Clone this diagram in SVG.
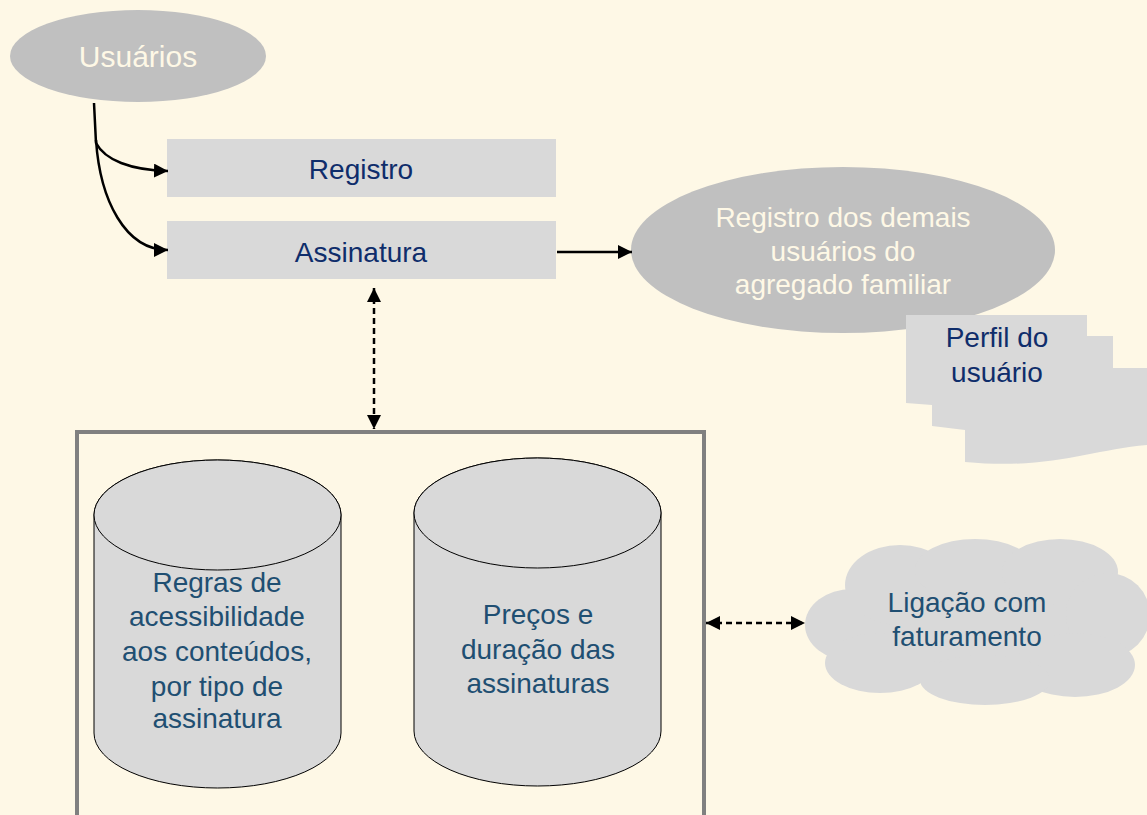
<svg xmlns="http://www.w3.org/2000/svg" width="1147" height="815" viewBox="0 0 1147 815">
<style>
text{font-family:"Liberation Sans",Arial,sans-serif;text-anchor:middle}
.light{fill:#FEF8E6;font-size:28px}
.navy{fill:#0F2D6B;font-size:28px}
.teal{fill:#1F4F72;font-size:28px}
.box{fill:#D9D9D9}
.cyl{fill:#D9D9D9;stroke:#000;stroke-width:1}
.solid{fill:none;stroke:#000;stroke-width:2.5}
.dash{fill:none;stroke:#000;stroke-width:2.5;stroke-dasharray:6,4}
</style>
<defs>
<marker id="ah" viewBox="0 0 10 10" refX="10" refY="5" markerWidth="14" markerHeight="14" markerUnits="userSpaceOnUse" orient="auto-start-reverse">
<path d="M0,0 L10,5 L0,10 Z" fill="#000"/>
</marker>
</defs>
<rect width="1147" height="815" fill="#FEF8E6"/>

<g id="usuarios">
<ellipse cx="138" cy="56" rx="128" ry="46" fill="#C0C0C0"/>
<text class="light" x="138" y="67" style="font-size:30px">Usuários</text>
</g>

<g id="registro">
<rect class="box" x="167" y="139" width="389" height="58"/>
<text class="navy" x="361" y="179">Registro</text>
</g>

<g id="assinatura">
<rect class="box" x="167" y="221" width="389" height="58"/>
<text class="navy" x="361" y="262">Assinatura</text>
</g>

<g id="registro-demais">
<ellipse cx="843" cy="250" rx="212" ry="83" fill="#C0C0C0"/>
<text class="light" x="843" y="227">Registro dos demais</text>
<text class="light" x="843" y="261">usuários do</text>
<text class="light" x="843" y="294">agregado familiar</text>
</g>

<g id="perfil">
<path class="box" d="M965,368 L1147,368 L1147,445 C1090,450 1050,470 965,462 Z"/>
<path class="box" d="M932,336 L1113,336 L1113,368 L965,368 L965,430 L932,426 Z"/>
<path class="box" d="M906,315 L1087,315 L1087,336 L932,336 L932,405 L906,403 Z"/>
<text class="navy" x="997" y="347">Perfil do</text>
<text class="navy" x="997" y="382">usuário</text>
</g>

<g id="container">
<rect x="77" y="432" width="627" height="390" fill="none" stroke="#808080" stroke-width="4"/>
</g>

<g id="regras">
<path class="cyl" d="M94,515 L94,733 A123.5,55 0 0 0 341,733 L341,515 A123.5,55 0 0 0 94,515 Z"/>
<ellipse class="cyl" cx="217.5" cy="515" rx="123.5" ry="55"/>
<text class="teal" x="217" y="592">Regras de</text>
<text class="teal" x="217" y="626">acessibilidade</text>
<text class="teal" x="217" y="661">aos conteúdos,</text>
<text class="teal" x="217" y="696">por tipo de</text>
<text class="teal" x="217" y="728">assinatura</text>
</g>

<g id="precos">
<path class="cyl" d="M414,513 L414,731 A123.5,55 0 0 0 661,731 L661,513 A123.5,55 0 0 0 414,513 Z"/>
<ellipse class="cyl" cx="537.5" cy="513" rx="123.5" ry="55"/>
<text class="teal" x="538" y="624">Preços e</text>
<text class="teal" x="538" y="659">duração das</text>
<text class="teal" x="538" y="693">assinaturas</text>
</g>

<g id="faturamento" fill="#D9D9D9">
<ellipse cx="975" cy="622" rx="135" ry="62"/>
<ellipse cx="852" cy="625" rx="47" ry="36"/>
<ellipse cx="900" cy="585" rx="55" ry="40"/>
<ellipse cx="975" cy="570" rx="60" ry="31"/>
<ellipse cx="1060" cy="572" rx="58" ry="33"/>
<ellipse cx="1108" cy="615" rx="42" ry="42"/>
<ellipse cx="1075" cy="665" rx="60" ry="32"/>
<ellipse cx="985" cy="680" rx="65" ry="25"/>
<ellipse cx="880" cy="663" rx="55" ry="30"/>
<text class="teal" x="967" y="612">Ligação com</text>
<text class="teal" x="967" y="646">faturamento</text>
</g>

<g id="connectors">
<path class="solid" d="M94,103 L96,143 C105,160 130,170 168,171" marker-end="url(#ah)"/>
<path class="solid" d="M96,140 C100,200 125,250 168,250" marker-end="url(#ah)"/>
<path class="solid" d="M557,252 L632,252" marker-end="url(#ah)"/>
<path class="dash" d="M374,288 L374,429" marker-start="url(#ah)" marker-end="url(#ah)"/>
<path class="dash" d="M706,623 L805,623" marker-start="url(#ah)" marker-end="url(#ah)"/>
</g>
</svg>
